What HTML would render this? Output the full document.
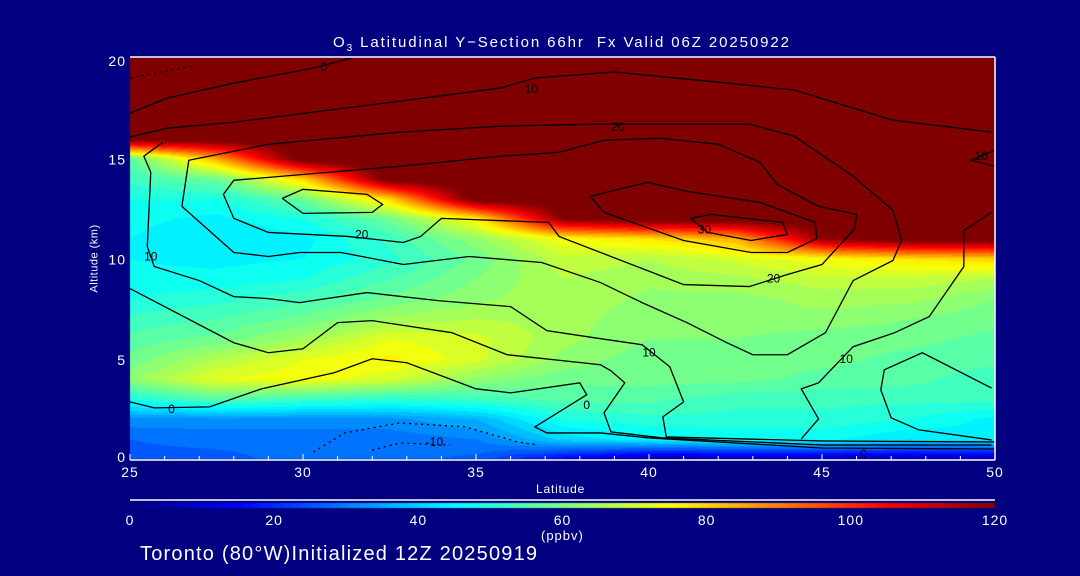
<!DOCTYPE html>
<html><head><meta charset="utf-8"><style>
body{margin:0;background:#000080;width:1080px;height:576px;overflow:hidden;position:relative;font-family:"Liberation Sans",sans-serif;color:#fff}
.t{position:absolute;white-space:nowrap;font-size:13px;line-height:13px}
canvas,svg{position:absolute;left:0;top:0}
</style></head><body>
<canvas id="heat" width="1080" height="576"></canvas>
<svg id="ov" width="1080" height="576"></svg>
<div class="t" style="left:333px;top:36px;font-size:15px;letter-spacing:1.9px">O<sub style="font-size:10px">3</sub> Latitudinal Y−Section 66hr&nbsp; Fx Valid 06Z 20250922</div>
<div class="t" style="left:50px;top:252px;font-size:11px;transform:rotate(-90deg);transform-origin:center;width:90px;text-align:center;letter-spacing:0.5px">Altitude (km)</div>
<div class="t" style="left:536px;top:483px;font-size:12px;letter-spacing:0.8px">Latitude</div>
<div class="t" style="left:541px;top:529px;font-size:13px;letter-spacing:1px">(ppbv)</div>
<div class="t" style="left:140px;top:544px;font-size:20px;line-height:20px;letter-spacing:1.2px">Toronto (80°W)Initialized 12Z 20250919</div>
<script>
const lats=[25,27.5,30,32.5,35,37.5,40,42.5,45,47.5,50];
const alts=[0,1,2,3,4,5,6,7,8,9,10,11,12,13,14,15,16,17,18,19,20];
const R=125;
const ozone=[
[26,26,28,28,26,14,5,5,5,5,5],
[27,28,28,28,30,40,44,46,46,42,44],
[32,32,32,32,36,48,50,50,50,48,44],
[48,55,52,50,52,55,55,52,52,52,52],
[62,72,74,70,62,58,58,58,56,55,52],
[58,66,72,76,70,62,58,58,58,56,55],
[55,58,64,72,70,64,60,60,58,58,56],
[52,54,58,64,66,65,60,62,62,60,58],
[48,50,53,58,62,66,62,62,64,64,60],
[46,46,48,54,60,66,64,65,68,68,66],
[45,44,45,50,58,68,66,70,74,78,80],
[45,42,44,52,62,74,78,84,118,R,R],
[46,44,48,58,76,120,R,R,R,R,R],
[48,48,58,80,R,R,R,R,R,R,R],
[52,58,80,R,R,R,R,R,R,R,R],
[56,85,R,R,R,R,R,R,R,R,R],
[R,R,R,R,R,R,R,R,R,R,R],
[R,R,R,R,R,R,R,R,R,R,R],
[R,R,R,R,R,R,R,R,R,R,R],
[R,R,R,R,R,R,R,R,R,R,R],
[R,R,R,R,R,R,R,R,R,R,R]];
const xTicks=[25,30,35,40,45,50];
const yTicks=[0,5,10,15,20];
const cbTicks=[0,20,40,60,80,100,120];
const contours=[
{dash:false,pts:[[25,17.25],[26.07,18.0],[28,18.75],[30.3,19.5],[31.4,20]]},
{dash:false,pts:[[25,16.06],[26.07,16.5],[28,16.8],[32.8,17.85],[35.7,18.5],[36.7,19.0],[38.6,19.25],[39,19.3],[42.25,18.75],[44.2,18.4],[47.05,16.9],[49.9,16.3]]},
{dash:false,pts:[[26.5,12.6],[28,10.3],[29,10.1],[29.9,10.3],[31.1,10.3],[32.9,9.7],[34.8,10.1],[36.9,9.8],[38.6,8.8],[39.8,7.8],[41.1,6.8],[42.25,5.8],[43,5.2],[44,5.2],[45.1,6.3],[45.9,8.9],[47.05,9.9],[47.3,10.9],[47.05,12.4],[45.9,14.1],[44.2,16.1],[42.9,16.7],[38.4,16.7],[35.7,16.6],[32.8,16.3],[29,15.7],[26.7,14.9],[26.5,12.6]]},
{dash:false,pts:[[37.4,15.3],[38.7,15.9],[40.3,16.0],[42,15.7],[43.2,14.8],[43.7,13.7],[44.9,12.6],[46,12.2],[45.95,11.5],[45,9.7],[44,9.2],[42.9,8.6],[41,8.7],[39.8,9.5],[37.4,11.1],[37.1,11.8],[34,12.0],[33.4,11.1],[32.9,10.8],[31.3,11.1],[29,11.3],[28,12.0],[27.7,13.2],[28,13.9],[32.8,14.6],[35.7,15.1],[37.4,15.3]]},
{dash:false,pts:[[38.3,13.1],[39.95,13.8],[41.1,13.35],[43.2,12.8],[44.8,11.8],[44.85,11.0],[44,10.3],[42.95,10.3],[41,10.9],[38.7,12.3],[38.3,13.1]]},
{dash:false,pts:[[41.2,12.0],[41.8,12.2],[43.85,11.8],[44,11.2],[42.95,10.9],[41.7,11.3],[41.2,12.0]]},
{dash:false,pts:[[29.4,13.0],[30,13.45],[31.85,13.2],[32.3,12.7],[32,12.3],[30,12.25],[29.4,13.0]]},
{dash:false,pts:[[25.95,15.8],[25.4,15.1],[25.6,14.3],[25.5,10.6],[25.7,9.6],[27,8.9],[28,8.1],[29,8.0],[29.9,7.8],[31.85,8.3],[33.9,7.9],[36,7.6],[37.05,6.4],[38.6,6.0],[39.8,5.7],[40.6,4.6],[41,2.85],[40.4,2.1],[40.5,1.1],[45,0.9],[50,0.85]]},
{dash:false,pts:[[25,8.5],[28,5.8],[29,5.3],[30,5.5],[31,6.8],[32,6.9],[34.3,6.3],[35.9,5.2],[38.6,4.7],[38.9,4.4],[39.3,3.8],[38.7,2.3],[38.9,1.35],[40.4,1.05],[45,0.7],[49.9,0.7]]},
{dash:false,pts:[[25,2.85],[25.7,2.55],[27.3,2.6],[28.8,3.5],[30.9,4.3],[32,5.0],[33,4.8],[35,3.5],[36,3.3],[38,3.8],[38.2,3.2],[36.7,1.6],[37.05,1.3],[38.6,1.3],[40,1.05],[45,0.55],[50,0.5]]},
{dash:false,pts:[[49.9,3.54],[47.9,5.3],[46.8,4.45],[46.7,3.45],[47,2.05],[47.8,1.45],[49.9,0.95]]},
{dash:false,pts:[[49.9,12.3],[49.1,11.4],[49.1,9.6],[48.1,7.1],[47.1,6.3],[45.9,5.6],[44.9,3.8],[44.4,3.5],[44.9,2.0],[44.4,1.0]]},
{dash:false,pts:[[50,15.4],[49.3,14.9],[50,14.6]]},
{dash:true,pts:[[30.3,0.35],[31.2,1.3],[32.8,1.8],[34.7,1.6],[36.2,0.85],[36.8,0.7]]},
{dash:true,pts:[[32,0.45],[32.8,0.8],[34.25,0.7]]},
{dash:true,pts:[[25,19.0],[26.8,19.6]]}];
const cLabels=[["0",30.6,19.55],["10",36.6,18.45],["20",39.1,16.55],["20",31.7,11.2],["20",43.6,9.0],["30",41.6,11.45],["10",25.6,10.1],["10",40,5.3],["10",45.7,5.0],["0",26.2,2.5],["0",38.2,2.7],["-10",33.8,0.85],["0",46.2,0.25],["10",49.6,15.1]];
const X0=130,X1=995,Y0=459,Y1=58;
const sx=v=>X0+(v-25)/25*(X1-X0);
const sy=v=>Y0-(v/20)*(Y0-Y1);
const sc=v=>X0+v/120*(X1-X0);
function jet(v){const t=Math.max(0,Math.min(1,v/120));const c=a=>Math.round(255*Math.max(0,Math.min(1,1.5-Math.abs(4*t-a))));return [c(3),c(2),c(1)];}
function val(la,al){
 let i=Math.min(9,Math.floor((la-25)/2.5)),j=Math.min(19,Math.floor(al));
 i=Math.max(0,i);j=Math.max(0,j);
 const fx=(la-lats[i])/2.5,fy=al-alts[j];
 const a=ozone[j][i],b=ozone[j][i+1],c=ozone[j+1][i],d=ozone[j+1][i+1];
 return a*(1-fx)*(1-fy)+b*fx*(1-fy)+c*(1-fx)*fy+d*fx*fy;}
const cv=document.getElementById('heat'),ctx=cv.getContext('2d');
const img=ctx.createImageData(X1-X0,Y0-Y1);
for(let py=0;py<Y0-Y1;py++)for(let px=0;px<X1-X0;px++){
 const la=25+px/(X1-X0)*25,al=(Y0-(Y1+py))/(Y0-Y1)*20;
 let v=val(la,al);v=Math.floor(v/3)*3+1.5;const c=jet(v);const k=(py*(X1-X0)+px)*4;
 img.data[k]=c[0];img.data[k+1]=c[1];img.data[k+2]=c[2];img.data[k+3]=255;}
ctx.putImageData(img,X0,Y1);
const cb=ctx.createImageData(X1-X0,5);
for(let px=0;px<X1-X0;px++){const c=jet(px/(X1-X0)*120);for(let r=0;r<5;r++){const k=(r*(X1-X0)+px)*4;cb.data[k]=c[0];cb.data[k+1]=c[1];cb.data[k+2]=c[2];cb.data[k+3]=255;}}
ctx.putImageData(cb,X0,503);
const NS='http://www.w3.org/2000/svg',ov=document.getElementById('ov');
function mk(t,at){const e=document.createElementNS(NS,t);for(const k in at)e.setAttribute(k,at[k]);ov.appendChild(e);return e;}
contours.forEach((c,n)=>{const e=mk('polyline',{points:c.pts.map(p=>sx(p[0])+','+sy(p[1])).join(' '),fill:'none',stroke:'#000','stroke-width':1.3,'stroke-dasharray':c.dash?'2,4':'none'});

});
cLabels.forEach(l=>{const e=mk('text',{x:sx(l[1]),y:sy(l[2])+4,'font-size':12,'font-family':'Liberation Sans, sans-serif','text-anchor':'middle',fill:'#000'});e.textContent=l[0];

});
let e;
e=mk('line',{x1:X0,y1:Y1-1,x2:X1,y2:Y1-1,stroke:'#fff','stroke-width':1.5});
e=mk('line',{x1:X1,y1:Y1-1,x2:X1,y2:Y0+1,stroke:'#fff','stroke-width':1.5});
e=mk('line',{x1:X0,y1:Y0+1,x2:X1,y2:Y0+1,stroke:'#fff','stroke-width':1.5});
e=mk('line',{x1:X0,y1:500,x2:X1,y2:500,stroke:'#fff','stroke-width':1.5});
for(let v=25;v<=50;v++){e=mk('line',{x1:sx(v),y1:Y0+1,x2:sx(v),y2:Y0-(v%5?3:5),stroke:'#fff','stroke-width':1});}
function txt(s,x,y,anchor,name){const t=mk('text',{x:x,y:y,'font-size':14,'font-family':'Liberation Sans, sans-serif','text-anchor':anchor,fill:'#fff','letter-spacing':1});t.textContent=s;}
xTicks.forEach(v=>txt(String(v),sx(v),477,'middle','x-tick-label'));
yTicks.forEach(v=>txt(String(v),126,sy(v)+6-(v==0?3:0)+(v==20?2:0),'end','y-tick-label'));
cbTicks.forEach(v=>txt(String(v),sc(v),525,'middle','colorbar-tick-label'));
</script>
</body></html>
